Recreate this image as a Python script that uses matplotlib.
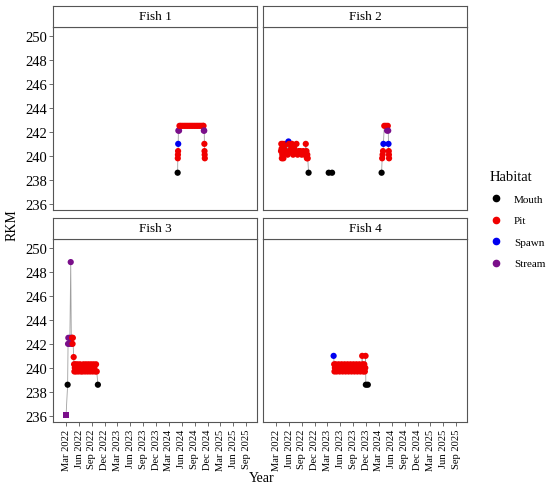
import numpy as np
import pandas as pd
import matplotlib
matplotlib.use("Agg")
import matplotlib.pyplot as plt
import matplotlib.dates as mdates
from matplotlib.lines import Line2D

plt.rcParams['font.family'] = ['Liberation Serif', 'DejaVu Serif']

# detections per fish: date, river km, habitat code (M=Mouth, P=Pit, S=Spawn, T=Stream)
fish1_dates = ["2024-05-02", "2024-05-03", "2024-05-04", "2024-05-05", "2024-05-06",
               "2024-05-07", "2024-05-12", "2024-05-15", "2024-05-25", "2024-06-06",
               "2024-06-18", "2024-06-30", "2024-07-12", "2024-07-24", "2024-08-05",
               "2024-08-17", "2024-08-29", "2024-09-10", "2024-09-22", "2024-10-04",
               "2024-10-16", "2024-10-28", "2024-11-02", "2024-11-04", "2024-11-07",
               "2024-11-08", "2024-11-09", "2024-11-10", "2024-11-11"]
fish1_rkm = [238.6, 239.8, 240.1, 240.4, 241.0,
             242.1, 242.1, 242.5, 242.5, 242.5,
             242.5, 242.5, 242.5, 242.5, 242.5,
             242.5, 242.5, 242.5, 242.5, 242.5,
             242.5, 242.5, 242.5, 242.1, 242.1,
             241.0, 240.4, 240.1, 239.8]
fish1_hab = "MPPPSTTPPPPPPPPPPPPPPPPTTPPPP"

fish2_dates = ["2022-04-05", "2022-04-07", "2022-04-09", "2022-04-11", "2022-04-14",
               "2022-04-18", "2022-04-22", "2022-04-27", "2022-05-05", "2022-05-10",
               "2022-05-16", "2022-05-22", "2022-05-28", "2022-06-01", "2022-06-08",
               "2022-06-15", "2022-06-22", "2022-06-30", "2022-07-08", "2022-07-16",
               "2022-07-24", "2022-08-01", "2022-08-10", "2022-08-20", "2022-08-30",
               "2022-09-10", "2022-09-20", "2022-09-28", "2022-10-03", "2022-10-06",
               "2022-10-09", "2022-10-12", "2022-10-18", "2023-03-10", "2023-04-03",
               "2024-03-20", "2024-03-24", "2024-03-27", "2024-03-30", "2024-04-02",
               "2024-04-08", "2024-04-20", "2024-04-28", "2024-05-03", "2024-05-06",
               "2024-05-08", "2024-05-10", "2024-05-11", "2024-05-12"]
fish2_rkm = [240.4, 241.0, 240.6, 239.8, 240.1,
             241.0, 239.8, 240.6, 241.0, 240.4,
             241.0, 240.1, 241.2, 241.0, 240.4,
             240.6, 241.0, 240.1, 240.6, 240.4,
             241.0, 240.1, 240.4, 240.4, 240.1,
             240.4, 240.1, 241.0, 240.4, 239.8,
             240.1, 239.8, 238.6, 238.6, 238.6,
             238.6, 239.8, 240.1, 240.4, 241.0,
             242.5, 242.5, 242.1, 242.5, 242.1,
             241.0, 240.4, 240.1, 239.8]
fish2_hab = "PPPPPPPPPPPPSPPPPPPPPPPPPPPPPPPPMMMMPPPSPPTPTSPPP"

fish3_dates = ["2022-03-01", "2022-03-12", "2022-03-15", "2022-03-17", "2022-03-24",
               "2022-03-28", "2022-04-03", "2022-04-07", "2022-04-09", "2022-04-13",
               "2022-04-16", "2022-04-18", "2022-04-24", "2022-04-27", "2022-04-29",
               "2022-05-02", "2022-05-06", "2022-05-11", "2022-05-16", "2022-05-21",
               "2022-05-27", "2022-06-02", "2022-06-08", "2022-06-14", "2022-06-20",
               "2022-06-26", "2022-07-02", "2022-07-08", "2022-07-14", "2022-07-20",
               "2022-07-26", "2022-08-01", "2022-08-07", "2022-08-13", "2022-08-19",
               "2022-08-25", "2022-08-31", "2022-09-06", "2022-09-12", "2022-09-18",
               "2022-09-24", "2022-09-30", "2022-10-05", "2022-10-13"]
fish3_rkm = [236.1, 238.6, 242.0, 242.5, 242.0,
             242.5, 248.8, 242.5, 242.0, 242.5,
             242.0, 242.5, 240.9, 240.3, 239.7,
             240.0, 240.3, 239.7, 240.0, 240.3,
             239.7, 240.0, 240.3, 239.7, 240.0,
             239.7, 240.3, 240.0, 239.7, 240.3,
             240.0, 239.7, 240.3, 240.0, 239.7,
             240.3, 240.0, 239.7, 240.3, 240.0,
             239.7, 240.3, 239.7, 238.6]
fish3_hab = "TMTTTTTTTPPPPPPPPPPPPPPPPPPPPPPPPPPPPPPPPPPM"

fish4_dates = ["2023-04-14", "2023-04-18", "2023-04-20", "2023-04-23", "2023-04-29",
               "2023-05-06", "2023-05-13", "2023-05-20", "2023-05-27", "2023-06-03",
               "2023-06-10", "2023-06-17", "2023-06-24", "2023-07-01", "2023-07-08",
               "2023-07-15", "2023-07-22", "2023-07-29", "2023-08-05", "2023-08-12",
               "2023-08-19", "2023-08-26", "2023-09-02", "2023-09-09", "2023-09-16",
               "2023-09-23", "2023-09-30", "2023-10-07", "2023-10-14", "2023-10-21",
               "2023-10-28", "2023-11-03", "2023-11-06", "2023-11-10", "2023-11-14",
               "2023-11-18", "2023-11-22", "2023-11-25", "2023-11-27", "2023-11-29",
               "2023-12-13"]
fish4_rkm = [241.0, 240.3, 239.7, 240.0, 240.3,
             239.7, 240.0, 240.3, 239.7, 240.0,
             240.3, 239.7, 240.0, 240.3, 239.7,
             240.0, 240.3, 239.7, 240.0, 240.3,
             239.7, 240.0, 240.3, 239.7, 240.0,
             240.3, 239.7, 240.0, 240.3, 239.7,
             240.0, 241.0, 240.3, 239.7, 240.0,
             240.3, 239.7, 240.0, 241.0, 238.6,
             238.6]
fish4_hab = "SPPPPPPPPPPPPPPPPPPPPPPPPPPPPPPPPPPPPPPMM"

# x ticks: quarterly from Mar 2022 to Sep 2025
tick_dates = pd.date_range("2022-03-01", "2025-09-01", freq="3MS")

# Fish 3 was released (tagged) at its first record
release_fish = "Fish 3"

habitat_names = {"M": "Mouth", "P": "Pit", "S": "Spawn", "T": "Stream"}
habitat_colors = {"Mouth": "black", "Pit": "#f00000", "Spawn": "#0000f0", "Stream": "#7a0f8a"}

fish = [
    ("Fish 1", fish1_dates, fish1_rkm, fish1_hab),
    ("Fish 2", fish2_dates, fish2_rkm, fish2_hab),
    ("Fish 3", fish3_dates, fish3_rkm, fish3_hab),
    ("Fish 4", fish4_dates, fish4_rkm, fish4_hab),
]

fig = plt.figure(figsize=(5.5, 4.85), dpi=100)

edge = "#555555"
lefts = [53, 263]
tops = [28, 240]
pw, ph, sh = 204, 183, 21
W, H = 550, 485

xlim = (pd.Timestamp("2021-11-28"), pd.Timestamp("2025-11-17"))
ylim = (235.5, 250.72)

for k, (name, dates, rkm, hab) in enumerate(fish):
    col, row = k % 2, k // 2
    x0, y0 = lefts[col], tops[row]
    ax = fig.add_axes([x0 / W, 1 - (y0 + ph) / H, pw / W, ph / H])
    d = pd.to_datetime(dates)
    r = np.array(rkm)
    hnames = [habitat_names[c] for c in hab]

    # path, broken at long gaps between detections
    gaps = np.where(np.diff(d.values).astype("timedelta64[D]").astype(int) > 60)[0]
    start = 0
    for g in list(gaps) + [len(d) - 1]:
        ax.plot(d[start:g + 1], r[start:g + 1], color="#777777", lw=0.6,
                alpha=0.7, zorder=2)
        start = g + 1

    cols = [habitat_colors[h] for h in hnames]
    markers = np.array(["o"] * len(d))
    if name == release_fish:
        markers[0] = "s"
    for m in ["o", "s"]:
        sel = markers == m
        if sel.any():
            ax.scatter(d[sel], r[sel], c=np.array(cols)[sel], s=20, marker=m,
                       linewidths=0, zorder=3)

    ax.set_xlim(*xlim)
    ax.set_ylim(*ylim)
    ax.set_yticks(np.arange(236, 251, 2))
    ax.set_xticks(tick_dates)
    ax.xaxis.set_major_formatter(mdates.DateFormatter("%b %Y"))
    ax.tick_params(colors=edge, labelcolor="black", length=3, width=0.6)
    ax.tick_params(axis="y", labelsize=10.5, pad=1.5)
    ax.tick_params(axis="x", labelsize=7.6, rotation=90, pad=2)
    for s in ax.spines.values():
        s.set_color(edge)
        s.set_linewidth(0.8)
    if col == 1:
        ax.tick_params(axis="y", left=False, labelleft=False)
    if row == 0:
        ax.tick_params(axis="x", bottom=False, labelbottom=False)

    # facet strip
    sax = fig.add_axes([x0 / W, 1 - y0 / H, pw / W, sh / H])
    sax.set_xticks([])
    sax.set_yticks([])
    for s in sax.spines.values():
        s.set_color(edge)
        s.set_linewidth(0.8)
    sax.text(0.5, 0.5, name, ha="center", va="center", fontsize=9.5,
             transform=sax.transAxes)

fig.text(12 / W, 1 - 225 / H, "RKM", rotation=90, ha="center", va="center", fontsize=10)
fig.text(262 / W, 1 - 479 / H, "Year", ha="center", va="center", fontsize=10)

handles = [Line2D([], [], marker="o", ls="", color=habitat_colors[h], markersize=4.5)
           for h in ["Mouth", "Pit", "Spawn", "Stream"]]
leg = fig.legend(handles, ["Mouth", "Pit", "Spawn", "Stream"], title="Habitat",
                 loc="center left", bbox_to_anchor=(484 / W, 1 - 220 / H),
                 frameon=False, fontsize=8, title_fontsize=10.5, borderpad=0,
                 handlelength=1.2, labelspacing=1.05, handletextpad=1.0,
                 alignment="left")

fig.savefig("out.png", dpi=100)
